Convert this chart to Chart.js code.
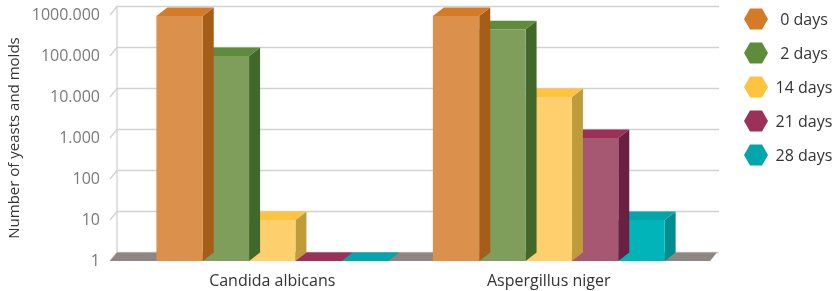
<!DOCTYPE html>
<html>
<head>
<meta charset="utf-8">
<script src="https://cdn.jsdelivr.net/npm/chart.js@4.4.1/dist/chart.umd.min.js"></script>
<style>
  html, body { margin: 0; padding: 0; background: #fff; }
  #wrap { width: 838px; height: 291px; position: relative; }
</style>
</head>
<body>
<div id="wrap"><canvas id="chart"></canvas></div>
<script>
// data
const categories = ['Candida albicans', 'Aspergillus niger'];
const seriesNames = ['0 days', '2 days', '14 days', '21 days', '28 days'];
const days0 = [950000, 950000];
const days2 = [100000, 450000];
const days14 = [10, 10000];
const days21 = [1, 1000];
const days28 = [1, 10];
const yTickValues = [1, 10, 100, 1000, 10000, 100000, 1000000];
const yTickLabels = ['1', '10', '100', '1.000', '10.000', '100.000', '1000.000'];

// colours: front face, top face, side face
const frontColors = ['#DB914B', '#7F9E5B', '#FDCF6D', '#A65771', '#00B4BA'];
const topColors = ['#D57A27', '#5E8C3A', '#FEC43F', '#9B3159', '#00A6AC'];
const sideColors = ['#A55D18', '#41672A', '#BF9C3A', '#6D1F42', '#008C90'];

const FONT = "'Open Sans', 'Noto Sans', sans-serif";

// depth offsets for the fake 3D look
const BAR_DX = 11, BAR_DY = -8.5;
const WALL_DX = 7, WALL_DY = -8.5;

const threeD = {
    id: 'threeD',
    beforeDatasetsDraw(chart) {
        const ctx = chart.ctx;
        const y = chart.scales.y;
        const area = chart.chartArea;
        const fl = area.left - 24, fr = area.right + 23;
        const bottom = y.getPixelForValue(1);
        ctx.save();
        // back wall gridlines + left wall ticks
        ctx.strokeStyle = '#d2d2d2';
        ctx.lineWidth = 1.3;
        yTickValues.forEach(v => {
            const py = y.getPixelForValue(v);
            ctx.beginPath();
            ctx.moveTo(fl, py);
            ctx.lineTo(fl + WALL_DX, py + WALL_DY);
            ctx.lineTo(fr + WALL_DX + 2, py + WALL_DY);
            ctx.stroke();
        });
        ctx.beginPath();
        ctx.moveTo(fl + WALL_DX, y.getPixelForValue(1000000) + WALL_DY);
        ctx.lineTo(fl + WALL_DX, bottom + WALL_DY);
        ctx.stroke();
        // floor
        ctx.fillStyle = '#8E8683';
        ctx.beginPath();
        ctx.moveTo(fl, bottom);
        ctx.lineTo(fl + WALL_DX, bottom + WALL_DY);
        ctx.lineTo(fr + WALL_DX, bottom + WALL_DY);
        ctx.lineTo(fr, bottom);
        ctx.closePath();
        ctx.fill();
        ctx.restore();
    },
    beforeDatasetDraw(chart, args) {
        const ctx = chart.ctx;
        const i = args.index;
        const meta = chart.getDatasetMeta(i);
        ctx.save();
        meta.data.forEach(bar => {
            const p = bar.getProps(['x', 'y', 'base', 'width'], true);
            const l = p.x - p.width / 2, r = p.x + p.width / 2;
            // side
            ctx.fillStyle = sideColors[i];
            ctx.beginPath();
            ctx.moveTo(r, p.y);
            ctx.lineTo(r + BAR_DX, p.y + BAR_DY);
            ctx.lineTo(r + BAR_DX, p.base + BAR_DY);
            ctx.lineTo(r, p.base);
            ctx.closePath();
            ctx.fill();
            // top
            ctx.fillStyle = topColors[i];
            ctx.beginPath();
            ctx.moveTo(l, p.y);
            ctx.lineTo(l + BAR_DX, p.y + BAR_DY);
            ctx.lineTo(r + BAR_DX, p.y + BAR_DY);
            ctx.lineTo(r, p.y);
            ctx.closePath();
            ctx.fill();
        });
        ctx.restore();
    },
    afterDraw(chart) {
        // legend with hexagon markers
        const ctx = chart.ctx;
        ctx.save();
        ctx.font = '16px ' + FONT;
        ctx.textAlign = 'center';
        ctx.textBaseline = 'middle';
        seriesNames.forEach((name, i) => {
            const cx = 756, cy = 19 + i * 34;
            ctx.fillStyle = topColors[i];
            ctx.beginPath();
            ctx.moveTo(cx - 12, cy);
            ctx.lineTo(cx - 6, cy - 10.5);
            ctx.lineTo(cx + 6, cy - 10.5);
            ctx.lineTo(cx + 12, cy);
            ctx.lineTo(cx + 6, cy + 10.5);
            ctx.lineTo(cx - 6, cy + 10.5);
            ctx.closePath();
            ctx.fill();
            ctx.fillStyle = '#333333';
            ctx.fillText(name, 804, cy + 1);
        });
        ctx.restore();
    }
};

const seriesData = [days0, days2, days14, days21, days28];

new Chart(document.getElementById('chart'), {
    type: 'bar',
    data: {
        labels: categories,
        datasets: seriesNames.map((name, i) => ({
            label: name,
            data: seriesData[i],
            backgroundColor: frontColors[i],
            borderWidth: 0,
            categoryPercentage: 0.838,
            barPercentage: 1
        }))
    },
    options: {
        responsive: true,
        maintainAspectRatio: false,
        animation: false,
        layout: { padding: { top: 15, right: 151, bottom: 0, left: 0 } },
        plugins: {
            legend: { display: false },
            tooltip: { enabled: false }
        },
        scales: {
            x: {
                // invisible tick marks are used as label offset
                grid: { color: 'rgba(0,0,0,0)', drawOnChartArea: false, tickLength: 11 },
                border: { display: false },
                ticks: { color: '#333333', font: { family: FONT, size: 16 }, padding: 0 },
                afterFit: scale => { scale.height = 30; }
            },
            y: {
                type: 'logarithmic',
                min: 1,
                max: 1000000,
                grid: { color: 'rgba(0,0,0,0)', drawOnChartArea: false, tickLength: 34 },
                border: { display: false },
                afterBuildTicks: scale => {
                    scale.ticks = yTickValues.map(v => ({ value: v }));
                },
                ticks: {
                    color: '#7a7a7a',
                    font: { family: FONT, size: 16 },
                    padding: 0,
                    callback: (value, index) => yTickLabels[index]
                },
                title: {
                    display: true,
                    text: 'Number of yeasts and molds',
                    color: '#333333',
                    font: { family: FONT, size: 15 },
                    padding: { top: 6, bottom: 0 }
                },
                afterFit: scale => { scale.width = 134; }
            }
        }
    },
    plugins: [threeD]
});
</script>
</body>
</html>
